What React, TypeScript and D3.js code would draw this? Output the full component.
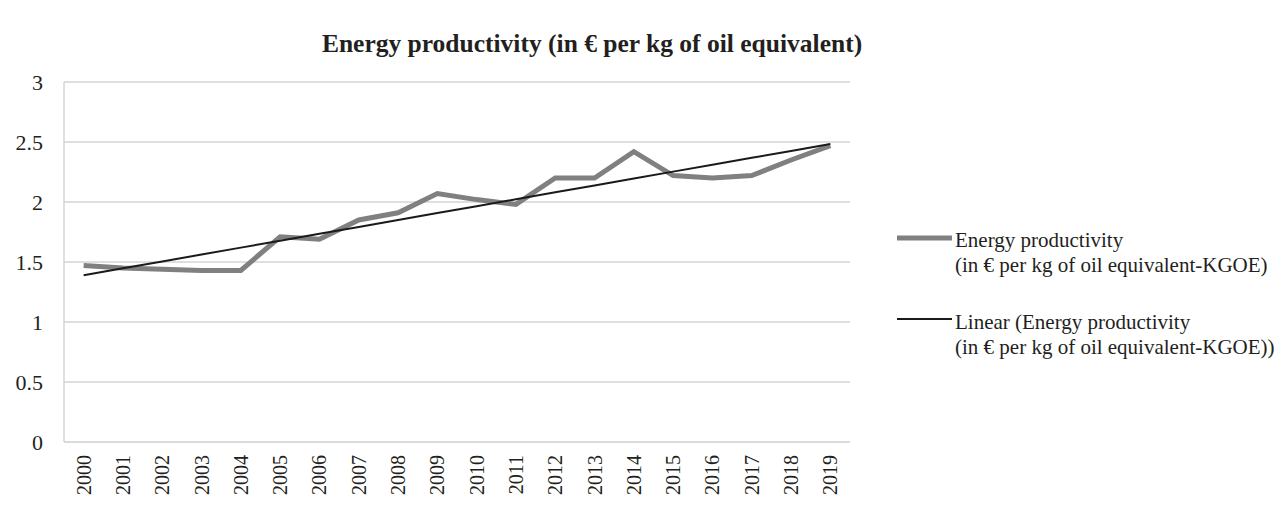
import React from 'react';
import * as d3 from 'd3';

const years = ['2000', '2001', '2002', '2003', '2004', '2005', '2006', '2007', '2008', '2009',
  '2010', '2011', '2012', '2013', '2014', '2015', '2016', '2017', '2018', '2019'];
const productivity = [1.47, 1.45, 1.44, 1.43, 1.43, 1.71, 1.69, 1.85, 1.91, 2.07,
  2.02, 1.98, 2.2, 2.2, 2.42, 2.22, 2.2, 2.22, 2.35, 2.47];
const yTicks = [0, 0.5, 1, 1.5, 2, 2.5, 3];
const title = 'Energy productivity (in € per kg of oil equivalent)';
const legendSeries = ['Energy productivity', '(in € per kg of oil equivalent-KGOE)'];
const legendTrend = ['Linear (Energy productivity', '(in € per kg of oil equivalent-KGOE))'];

const font = '"Liberation Serif", "Times New Roman", serif';

// least squares fit over year index, like Excel's linear trendline
function linearFit(vals: number[]) {
  const n = vals.length;
  const mx = (n - 1) / 2;
  const my = d3.mean(vals) as number;
  let sxy = 0, sxx = 0;
  vals.forEach((v, i) => { sxy += (i - mx) * (v - my); sxx += (i - mx) * (i - mx); });
  const slope = sxy / sxx;
  return vals.map((_, i) => my + slope * (i - mx));
}

export default function App() {
  const left = 64, right = 850, top = 82, bottom = 442;
  const x = d3.scaleBand<string>().domain(years).range([left, right]);
  const cx = (yr: string) => (x(yr) as number) + x.bandwidth() / 2;
  const y = d3.scaleLinear().domain([0, 3]).range([bottom, top]);

  const line = d3.line<number>()
    .x((_, i) => cx(years[i]))
    .y(d => y(d));
  const trend = linearFit(productivity);

  return (
    <svg width={1286} height={506} style={{ position: 'absolute', left: 0, top: 0, background: '#fff' }}
      fontFamily={font}>
      <text x={592} y={52} textAnchor="middle" fontWeight="bold" fontSize={25.5} fill="#231f20">{title}</text>

      {yTicks.map(t => (
        <g key={'t' + t}>
          {t > 0 && <line x1={left} x2={right} y1={y(t)} y2={y(t)} stroke="#d4d4d4" strokeWidth={1.3} />}
          <text x={43} y={y(t)} dy="0.35em" textAnchor="end" fontSize={22} fill="#231f20">{t}</text>
        </g>
      ))}
      <line x1={left} x2={left} y1={top} y2={bottom} stroke="#cfcfcf" strokeWidth={1.3} />
      <line x1={left} x2={right} y1={bottom} y2={bottom} stroke="#cfcfcf" strokeWidth={1.3} />

      {years.map(yr => (
        <text key={yr} x={cx(yr)} y={455} dy="0.35em" textAnchor="end" fontSize={20} fill="#231f20"
          transform={`rotate(-90, ${cx(yr)}, 455)`}>{yr}</text>
      ))}

      <path d={line(productivity) as string} fill="none" stroke="#808080" strokeWidth={5} strokeLinejoin="miter" />
      <path d={line(trend) as string} fill="none" stroke="#1a1a1a" strokeWidth={2} />

      <g>
        <line x1={897} x2={952} y1={238} y2={238} stroke="#808080" strokeWidth={5} />
        {legendSeries.map((s, i) => (
          <text key={s} x={955} y={247 + i * 25} fontSize={21} fill="#231f20">{s}</text>
        ))}
        <line x1={897} x2={952} y1={319} y2={319} stroke="#1a1a1a" strokeWidth={2} />
        {legendTrend.map((s, i) => (
          <text key={s} x={955} y={329 + i * 25} fontSize={21} fill="#231f20">{s}</text>
        ))}
      </g>
    </svg>
  );
}
